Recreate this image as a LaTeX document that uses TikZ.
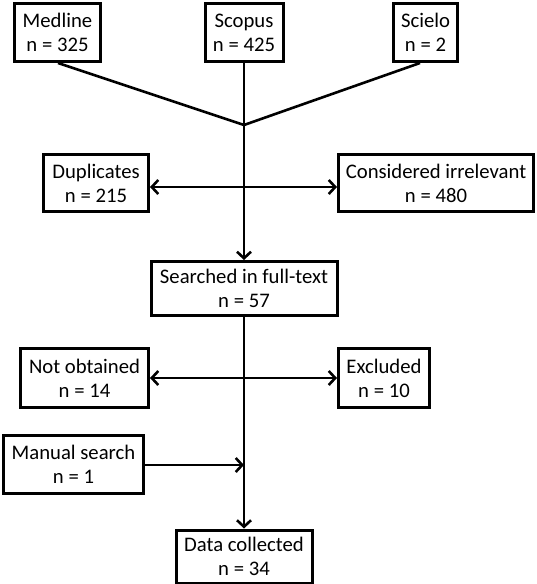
\documentclass[tikz,border=0pt]{standalone}
\usepackage{fontspec}
\setmainfont{Carlito}
\usetikzlibrary{arrows.meta}
\begin{document}
\begin{tikzpicture}[x=1pt,y=-1pt,
  box/.style={draw=black,line width=3pt,rectangle,inner sep=0pt,align=center,
    font=\fontsize{20.7pt}{24pt}\selectfont},
  conn/.style={line width=2.6pt,black},
  arr/.style={conn,-{Straight Barb[length=6.5pt,width=14pt,line width=2.6pt]}},
  darr/.style={conn,{Straight Barb[length=6.5pt,width=14pt,line width=2.6pt]}-{Straight Barb[length=6.5pt,width=14pt,line width=2.6pt]}}]
\useasboundingbox (0,0) rectangle (536,584);
\node[box,minimum width=86pt,minimum height=58pt] (med) at (57.5,32.5) {Medline\\n = 325};
\node[box,minimum width=78pt,minimum height=58pt] (sco) at (244,32.5) {Scopus\\n = 425};
\node[box,minimum width=64pt,minimum height=58pt] (sci) at (425.5,32.5) {Scielo\\n = 2};
\node[box,minimum width=105pt,minimum height=57pt] (dup) at (96,183) {Duplicates\\n = 215};
\node[box,minimum width=195pt,minimum height=57pt] (irr) at (436,183) {Considered irrelevant\\n = 480};
\node[box,minimum width=186pt,minimum height=54pt] (sea) at (244,288.5) {Searched in full-text\\n = 57};
\node[box,minimum width=128pt,minimum height=59pt] (not) at (84.5,378) {Not obtained\\n = 14};
\node[box,minimum width=91pt,minimum height=59pt] (exc) at (384,378) {Excluded\\n = 10};
\node[box,minimum width=140pt,minimum height=58pt] (man) at (73.5,464.5) {Manual search\\n = 1};
\node[box,minimum width=136pt,minimum height=53pt] (dat) at (244,556.5) {Data collected\\n = 34};
\coordinate (j) at (244,125);
\coordinate (h1) at (244,187);
\coordinate (h3) at (244,465);
\draw[conn,line join=miter] (med.south -| 58,0) -- (j) -- (sci.south -| 420,0);
\draw[conn] (sco.south) -- (j);
\draw[arr] (j) -- (sea.north);
\draw[darr] (dup.east |- h1) -- (irr.west |- h1);
\draw[darr] (not.east) -- (exc.west);
\draw[arr] (sea.south) -- (dat.north);
\draw[arr] (man.east |- h3) -- (h3);
\end{tikzpicture}
\end{document}
